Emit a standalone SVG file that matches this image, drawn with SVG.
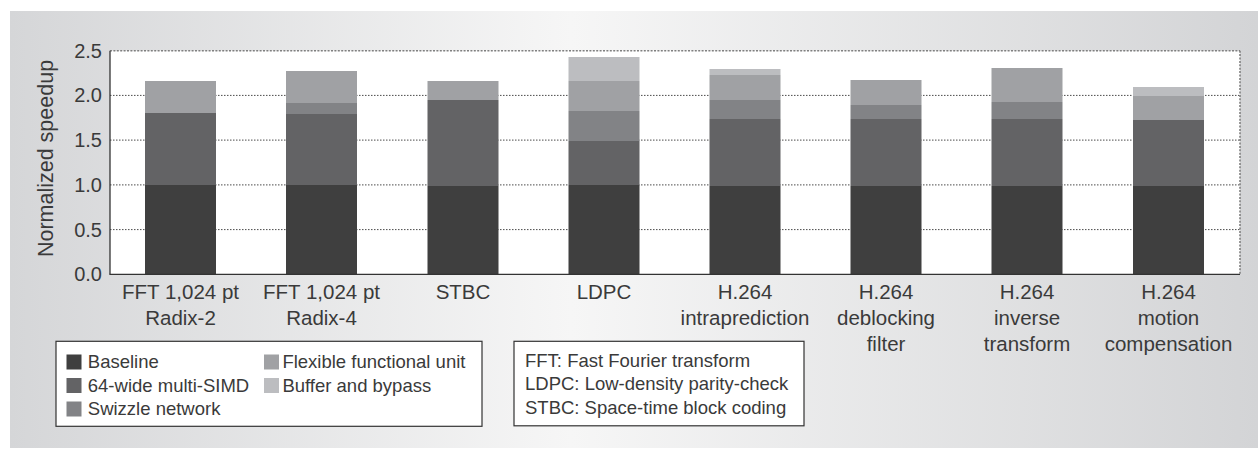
<svg xmlns="http://www.w3.org/2000/svg" width="1258" height="449" viewBox="0 0 1258 449">
  <defs>
    <linearGradient id="bg" x1="0" y1="0" x2="1" y2="0">
      <stop offset="0" stop-color="#d5d6d8"/>
      <stop offset="0.45" stop-color="#f6f6f6"/>
      <stop offset="1" stop-color="#d3d4d6"/>
    </linearGradient>
    <style>
      text { font-family: "Liberation Sans", Arial, sans-serif; fill: #3a3a3a; }
      .tick { font-size: 20px; text-anchor: end; }
      .xl { font-size: 20.5px; text-anchor: middle; }
      .lg { font-size: 18.5px; }
      .grid { stroke: #4a4a4a; stroke-width: 1; stroke-dasharray: 1.5 1.5; fill: none; }
      .edge { stroke: #808080; stroke-width: 1.6; stroke-dasharray: 2 1.4; fill: none; }
      .axis { stroke: #333; stroke-width: 1.3; fill: none; }
      .box { fill: #ffffff; stroke: #333; stroke-width: 1.2; }
      .base { fill: #3f3f3f; }
      .simd { fill: #636365; }
      .swz { fill: #828386; }
      .flex { fill: #a0a1a4; }
      .buf { fill: #bcbdc0; }
    </style>
  </defs>

  <rect x="10" y="11" width="1248" height="437" fill="url(#bg)"/>

  <g id="plot-area">
    <rect x="110" y="50.7" width="1130" height="223.6" fill="#ffffff"/>
    <line class="grid" x1="110" y1="229.6" x2="1240" y2="229.6"/>
    <line class="grid" x1="110" y1="184.9" x2="1240" y2="184.9"/>
    <line class="grid" x1="110" y1="140.1" x2="1240" y2="140.1"/>
    <line class="grid" x1="110" y1="95.4" x2="1240" y2="95.4"/>
    <line class="edge" x1="110" y1="50.7" x2="1240" y2="50.7"/>
    <line class="edge" x1="1240" y1="50.7" x2="1240" y2="274.3"/>
  </g>

  <g id="bar-fft-radix2">
    <rect class="flex" x="145" y="81" width="71" height="32"/>
    <rect class="simd" x="145" y="113" width="71" height="72"/>
    <rect class="base" x="145" y="185" width="71" height="89.3"/>
  </g>
  <g id="bar-fft-radix4">
    <rect class="flex" x="286" y="71" width="71" height="32"/>
    <rect class="swz" x="286" y="103" width="71" height="11"/>
    <rect class="simd" x="286" y="114" width="71" height="71"/>
    <rect class="base" x="286" y="185" width="71" height="89.3"/>
  </g>
  <g id="bar-stbc">
    <rect class="flex" x="427.5" y="81" width="71" height="19"/>
    <rect class="simd" x="427.5" y="100" width="71" height="86"/>
    <rect class="base" x="427.5" y="186" width="71" height="88.3"/>
  </g>
  <g id="bar-ldpc">
    <rect class="buf" x="568.5" y="57" width="71" height="24"/>
    <rect class="flex" x="568.5" y="81" width="71" height="30"/>
    <rect class="swz" x="568.5" y="111" width="71" height="30"/>
    <rect class="simd" x="568.5" y="141" width="71" height="44"/>
    <rect class="base" x="568.5" y="185" width="71" height="89.3"/>
  </g>
  <g id="bar-h264-intra">
    <rect class="buf" x="709.5" y="69" width="71" height="6"/>
    <rect class="flex" x="709.5" y="75" width="71" height="25"/>
    <rect class="swz" x="709.5" y="100" width="71" height="19"/>
    <rect class="simd" x="709.5" y="119" width="71" height="67"/>
    <rect class="base" x="709.5" y="186" width="71" height="88.3"/>
  </g>
  <g id="bar-h264-deblock">
    <rect class="flex" x="850.5" y="80" width="71" height="25"/>
    <rect class="swz" x="850.5" y="105" width="71" height="14"/>
    <rect class="simd" x="850.5" y="119" width="71" height="67"/>
    <rect class="base" x="850.5" y="186" width="71" height="88.3"/>
  </g>
  <g id="bar-h264-inverse">
    <rect class="flex" x="991.5" y="68" width="71" height="34"/>
    <rect class="swz" x="991.5" y="102" width="71" height="17"/>
    <rect class="simd" x="991.5" y="119" width="71" height="67"/>
    <rect class="base" x="991.5" y="186" width="71" height="88.3"/>
  </g>
  <g id="bar-h264-motion">
    <rect class="buf" x="1133" y="87" width="71" height="9"/>
    <rect class="flex" x="1133" y="96" width="71" height="24"/>
    <rect class="simd" x="1133" y="120" width="71" height="66"/>
    <rect class="base" x="1133" y="186" width="71" height="88.3"/>
  </g>

  <g id="axes">
    <line class="axis" x1="110" y1="50.7" x2="110" y2="274.3"/>
    <line class="axis" x1="109.4" y1="274.3" x2="1240" y2="274.3"/>
  </g>

  <g id="y-ticks">
    <text class="tick" x="102" y="57.7">2.5</text>
    <text class="tick" x="102" y="102.4">2.0</text>
    <text class="tick" x="102" y="147.1">1.5</text>
    <text class="tick" x="102" y="191.9">1.0</text>
    <text class="tick" x="102" y="236.6">0.5</text>
    <text class="tick" x="102" y="281.3">0.0</text>
  </g>
  <g id="y-title">
    <text x="53" y="158.5" font-size="21.5" text-anchor="middle" transform="rotate(-90 53 158.5)">Normalized speedup</text>
  </g>

  <g id="x-labels">
    <text class="xl" x="180.5" y="298.7">FFT 1,024 pt</text>
    <text class="xl" x="180.5" y="324.7">Radix-2</text>
    <text class="xl" x="321.5" y="298.7">FFT 1,024 pt</text>
    <text class="xl" x="321.5" y="324.7">Radix-4</text>
    <text class="xl" x="463" y="298.7">STBC</text>
    <text class="xl" x="604" y="298.7">LDPC</text>
    <text class="xl" x="745" y="298.7">H.264</text>
    <text class="xl" x="745" y="324.7">intraprediction</text>
    <text class="xl" x="886" y="298.7">H.264</text>
    <text class="xl" x="886" y="324.7">deblocking</text>
    <text class="xl" x="886" y="350.7">filter</text>
    <text class="xl" x="1027" y="298.7">H.264</text>
    <text class="xl" x="1027" y="324.7">inverse</text>
    <text class="xl" x="1027" y="350.7">transform</text>
    <text class="xl" x="1168.5" y="298.7">H.264</text>
    <text class="xl" x="1168.5" y="324.7">motion</text>
    <text class="xl" x="1168.5" y="350.7">compensation</text>
  </g>

  <g id="legend">
    <rect class="box" x="56" y="341.3" width="426" height="85"/>
    <rect class="base" x="66.5" y="354.5" width="15" height="15"/>
    <text class="lg" x="87.8" y="368">Baseline</text>
    <rect class="simd" x="66.5" y="378" width="15" height="15"/>
    <text class="lg" x="87.8" y="391.5">64-wide multi-SIMD</text>
    <rect class="swz" x="66.5" y="401.5" width="15" height="15"/>
    <text class="lg" x="87.8" y="415">Swizzle network</text>
    <rect class="flex" x="264" y="354.5" width="15" height="15"/>
    <text class="lg" x="282.4" y="368">Flexible functional unit</text>
    <rect class="buf" x="264" y="378" width="15" height="15"/>
    <text class="lg" x="282.4" y="391.5">Buffer and bypass</text>
  </g>

  <g id="abbreviations">
    <rect class="box" x="514" y="341.3" width="290" height="84.5"/>
    <text class="lg" x="525" y="366.5">FFT: Fast Fourier transform</text>
    <text class="lg" x="525" y="390">LDPC: Low-density parity-check</text>
    <text class="lg" x="525" y="413.5">STBC: Space-time block coding</text>
  </g>
</svg>
